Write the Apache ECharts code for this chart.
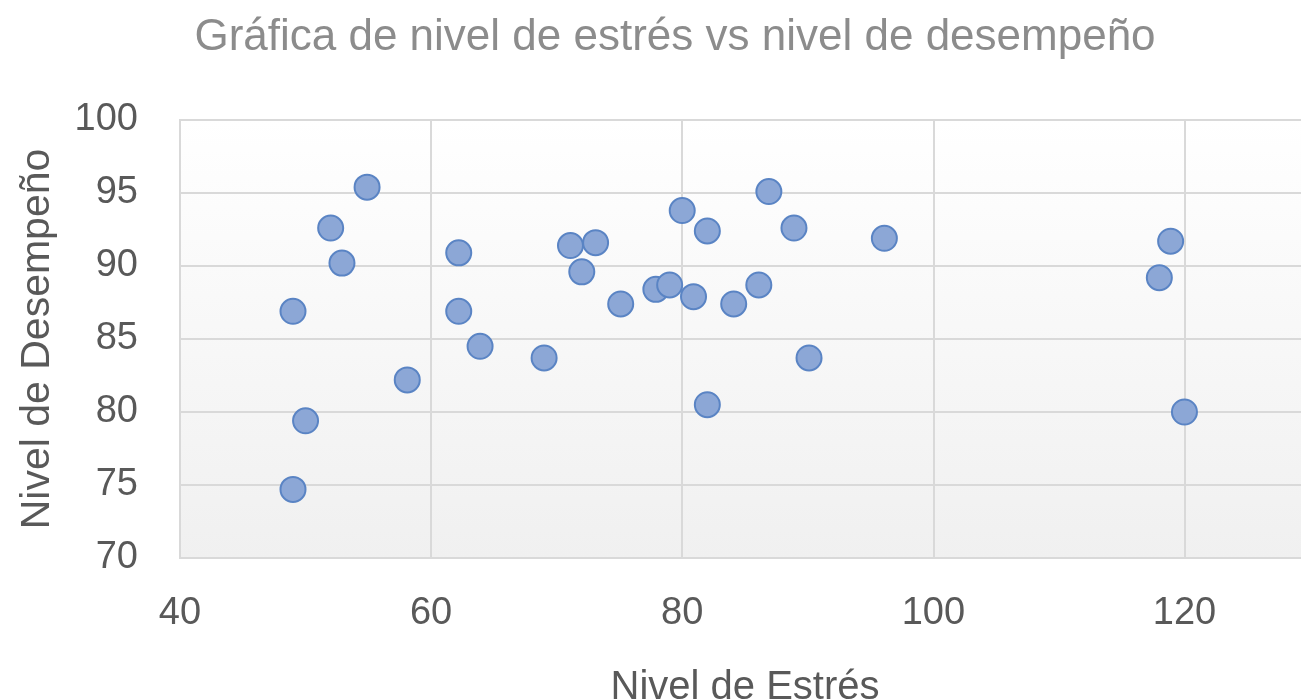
<!DOCTYPE html>
<html>
<head>
<meta charset="utf-8">
<title>Estrés vs desempeño</title>
<script src="https://cdn.jsdelivr.net/npm/echarts@6/dist/echarts.min.js"></script>
<style>
    html, body { margin: 0; padding: 0; background: #fff; }
    #chart { width: 1301px; height: 699px; }
</style>
</head>
<body>
<div id="chart"></div>
<script>
// nivel de estrés (x) y nivel de desempeño (y)
var estres = [49, 49, 50, 52, 52.9, 54.9, 58.1, 62.2, 62.2, 63.9,
              69, 71.1, 72, 73.1, 75.1, 77.9, 79, 80, 80.9, 82,
              82, 84.1, 86.1, 86.9, 88.9, 90.1, 96.1, 118, 118.9, 120];
var desempeno = [86.9, 74.7, 79.4, 92.6, 90.2, 95.4, 82.2, 90.9, 86.9, 84.5,
                 83.7, 91.4, 89.6, 91.6, 87.4, 88.4, 88.7, 93.8, 87.9, 92.4,
                 80.5, 87.4, 88.7, 95.1, 92.6, 83.7, 91.9, 89.2, 91.7, 80];
var ticksX = [40, 60, 80, 100, 120];
var ticksY = [70, 75, 80, 85, 90, 95, 100];

var puntos = estres.map(function (x, i) { return [x, desempeno[i]]; });

var myChart = echarts.init(document.getElementById('chart'));

var fuente = '"Liberation Sans", Arial, sans-serif';

var option = {
    backgroundColor: '#ffffff',
    animation: false,
    title: {
        text: 'Gráfica de nivel de estrés vs nivel de desempeño',
        left: 670,
        textAlign: 'center',
        top: 11,
        textStyle: {
            fontFamily: fuente,
            fontSize: 44,
            fontWeight: 'normal',
            color: '#8c8c8c'
        }
    },
    grid: {
        left: 180,
        top: 120,
        right: -9,
        bottom: 141,
        outerBoundsMode: 'none',
        containLabel: false,
        show: true,
        borderColor: '#d9d9d9',
        borderWidth: 2,
        backgroundColor: new echarts.graphic.LinearGradient(0, 0, 0, 1, [
            { offset: 0, color: '#ffffff' },
            { offset: 1, color: '#f0f0f0' }
        ])
    },
    xAxis: {
        type: 'value',
        min: ticksX[0],
        max: 130,
        interval: 20,
        name: 'Nivel de Estrés',
        nameLocation: 'middle',
        nameGap: 110,
        nameTextStyle: { fontFamily: fuente, fontSize: 40, color: '#595959' },
        axisLine: { show: false },
        axisTick: { show: false },
        axisLabel: {
            margin: 37,
            showMaxLabel: false,
            fontFamily: fuente,
            fontSize: 38,
            color: '#595959'
        },
        splitLine: { lineStyle: { color: '#d9d9d9', width: 2 } }
    },
    yAxis: {
        type: 'value',
        min: ticksY[0],
        max: ticksY[ticksY.length - 1],
        interval: 5,
        name: 'Nivel de Desempeño',
        nameLocation: 'middle',
        nameGap: 122,
        nameTextStyle: { fontFamily: fuente, fontSize: 41, color: '#595959' },
        axisLine: { show: false },
        axisTick: { show: false },
        axisLabel: {
            margin: 42,
            fontFamily: fuente,
            fontSize: 38,
            color: '#595959'
        },
        splitLine: { lineStyle: { color: '#d9d9d9', width: 2 } }
    },
    series: [
        {
            name: 'Desempeño',
            type: 'scatter',
            symbol: 'circle',
            symbolSize: 25,
            data: puntos,
            itemStyle: {
                color: '#8ca7d6',
                borderColor: '#5a84c4',
                borderWidth: 2,
                opacity: 1
            }
        }
    ]
};

myChart.setOption(option);
</script>
</body>
</html>
